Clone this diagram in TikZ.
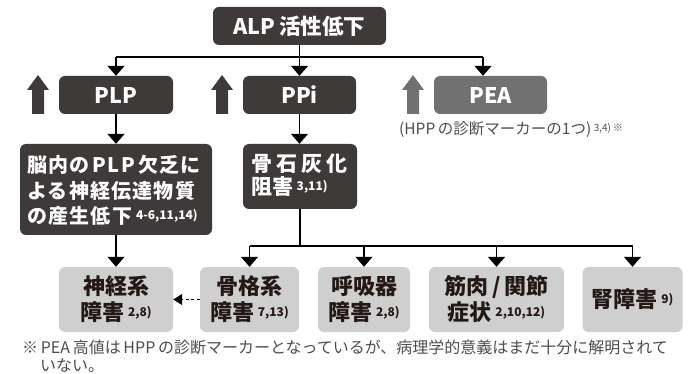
\documentclass[tikz,border=0pt]{standalone}
\usepackage{fontspec}
\setmainfont{Noto Sans CJK JP}
\newfontfamily\jpls[LetterSpace=6]{Noto Sans CJK JP}
\usetikzlibrary{arrows.meta}
\definecolor{dk}{HTML}{3E3A39}
\definecolor{lt}{HTML}{CFCFCF}
\definecolor{peac}{HTML}{717171}
\definecolor{txt}{HTML}{231815}
\definecolor{notec}{HTML}{4D4D4D}
\newcommand\refsup[1]{\raisebox{4.5pt}{\fontsize{12}{12}\selectfont #1}}
\tikzset{
  darkbox/.style={fill=dk, rounded corners=6pt, text=white, inner sep=0pt,
    font=\fontsize{21.5}{24}\selectfont\bfseries, align=center},
  greybox/.style={fill=peac, rounded corners=6pt, text=white, inner sep=0pt,
    font=\fontsize{21.5}{24}\selectfont\bfseries, align=center},
  lightbox/.style={fill=lt, rounded corners=6pt, text=txt, inner sep=0pt,
    font=\fontsize{22}{26}\selectfont\bfseries, align=center},
  conn/.style={line width=1.3pt, draw=black},
  tip/.style={-{Triangle[width=17pt,length=10pt]}},
  notetext/.style={text=notec, inner sep=0pt, font=\fontsize{16}{20}\selectfont}
}
\begin{document}
\begin{tikzpicture}[x=1pt,y=-1pt]
\useasboundingbox (0,0) rectangle (688,374);
% top row
\node[darkbox, minimum width=173pt, minimum height=38pt] (alp) at (299.5,26) {ALP\,活性低下};
\node[darkbox, minimum width=114pt, minimum height=38pt] (plp) at (116,95) {PLP};
\node[darkbox, minimum width=113pt, minimum height=38pt] (ppi) at (299.5,95) {PPi};
\node[greybox, minimum width=113pt, minimum height=38pt] (pea) at (490.5,95) {PEA};
\node[notetext, anchor=west, font=\fontsize{15.5}{20}\selectfont] (peanote) at (399,130) {(HPP\,の診断マーカーの1つ)\,\raisebox{3pt}{\fontsize{10}{10}\selectfont 3,4)\,※}};
% up arrows
\fill[dk] (38,75) -- (49,90) -- (44,90) -- (44,114) -- (32,114) -- (32,90) -- (27,90) -- cycle;
\fill[dk] (222,75) -- (233,90) -- (228,90) -- (228,114) -- (216,114) -- (216,90) -- (211,90) -- cycle;
\fill[peac] (413,75) -- (424,90) -- (419,90) -- (419,114) -- (407,114) -- (407,90) -- (402,90) -- cycle;
% second row
\node[darkbox, minimum width=192pt, minimum height=91pt] (brain) at (116,189.5) {};
\node[text=white, inner sep=0pt, anchor=north west, align=left,
  font=\jpls\fontsize{20}{25.5}\selectfont\bfseries, text width=186pt] (braintxt) at (27,155)
  {脳内の\,PLP\,欠乏に\\よる神経伝達物質\\の産生低下\hspace{4pt}{\fontspec{Noto Sans CJK JP}\bfseries\refsup{4-6,11,14)}}};
\node[darkbox, minimum width=114pt, minimum height=65pt] (bone) at (300,176.5) {};
\node[text=white, inner sep=0pt, anchor=north west, align=left,
  font=\fontsize{21}{23}\selectfont\bfseries] (bonetxt) at (251,154)
  {骨\hspace{4pt}石\hspace{4pt}灰\hspace{4pt}化\\阻害\,\refsup{3,11)}};
% bottom row
\node[lightbox, minimum width=114pt, minimum height=65pt] (neuro) at (116,299.5) {神経系\\障害\,\refsup{2,8)}};
\node[lightbox, minimum width=99pt, minimum height=65pt] (skel) at (249.5,299.5) {骨格系\\障害\,\refsup{7,13)}};
\node[lightbox, minimum width=92pt, minimum height=65pt] (resp) at (364,299.5) {呼吸器\\障害\,\refsup{2,8)}};
\node[lightbox, minimum width=135pt, minimum height=65pt] (musc) at (496.5,299.5) {筋肉\,/\,関節\\症状\,\refsup{2,10,12)}};
\node[lightbox, minimum width=100pt, minimum height=65pt] (renal) at (632.5,299.5) {腎障害\,\refsup{9)}};
% footnote
\node[notetext, anchor=west] (fn1) at (22,347) {※\,PEA\,高値は\,HPP\,の診断マーカーとなっているが、病理学的意義はまだ十分に解明されて};
\node[notetext, anchor=west] (fn2) at (40,365.5) {いない。};
% connectors
\coordinate (jtop) at (299.5,57);
\coordinate (jl) at (116,57);
\coordinate (jr) at (483,57);
\draw[conn] (alp.south) -- (jtop);
\draw[conn] (jl) -- (jr);
\draw[conn, tip] (jl) -- (plp.north);
\draw[conn, tip] (jtop) -- (ppi.north);
\draw[conn, tip] (jr) -- (jr |- pea.north);
\draw[conn, tip] (plp.south) -- (brain.north);
\draw[conn, tip] (ppi.south) -- (ppi.south |- bone.north);
\draw[conn, tip] (brain.south) -- (neuro.north);
\coordinate (jb) at (300,246);
\coordinate (jbl) at (249.5,246);
\coordinate (jbr) at (632.5,246);
\draw[conn] (bone.south) -- (jb);
\draw[conn] (jbl) -- (jbr);
\draw[conn, tip] (jbl) -- (skel.north);
\draw[conn, tip] (jbl -| resp.north) -- (resp.north);
\draw[conn, tip] (jbl -| musc.north) -- (musc.north);
\draw[conn, tip] (jbr) -- (renal.north);
\draw[line width=1pt, dash pattern=on 3pt off 2.5pt, -{Triangle[width=11pt,length=9pt]}] (skel.west) -- (neuro.east);
\end{tikzpicture}
\end{document}
